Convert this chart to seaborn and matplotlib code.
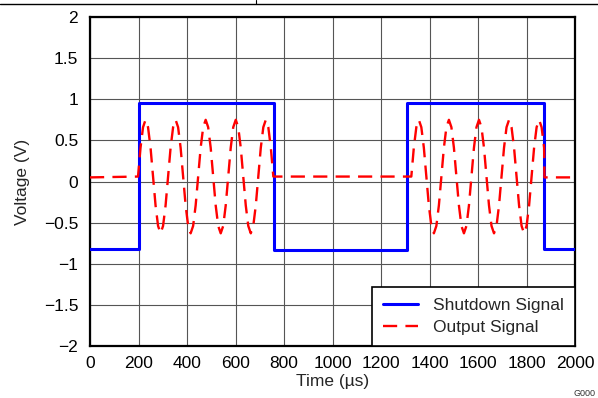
import numpy as np
import pandas as pd
import matplotlib
matplotlib.use("Agg")
import matplotlib.pyplot as plt
from matplotlib.lines import Line2D
import seaborn as sns

# ---------------- data ----------------
shutdown_t = [0, 202, 202, 759, 759, 1307, 1307, 1872, 1872, 2000]
shutdown_v = [-0.82, -0.82, 0.96, 0.96, -0.83, -0.83, 0.96, 0.96, -0.82, -0.82]

burst1_t = [198.0, 208.3, 218.7, 229.0, 239.3, 249.7, 260.0, 270.3, 280.7, 291.0, 301.3, 311.7,
            322.0, 332.3, 342.7, 353.0, 363.3, 373.7, 384.0, 394.3, 404.7, 415.0, 425.3, 435.7,
            446.0, 456.3, 466.7, 477.0, 487.3, 497.7, 508.0, 518.3, 528.7, 539.0, 549.3, 559.7,
            570.0, 580.3, 590.7, 601.0, 611.3, 621.7, 632.0, 642.3, 652.7, 663.0, 673.3, 683.7,
            694.0, 704.3, 714.7, 725.0, 735.3, 745.7, 756.0]
burst1_v = [0.06, 0.41, 0.66, 0.75, 0.66, 0.41, 0.06, -0.29, -0.54, -0.63, -0.54, -0.29,
            0.06, 0.41, 0.66, 0.75, 0.66, 0.41, 0.06, -0.29, -0.54, -0.63, -0.54, -0.29,
            0.06, 0.41, 0.66, 0.75, 0.66, 0.41, 0.06, -0.29, -0.54, -0.63, -0.54, -0.29,
            0.06, 0.41, 0.66, 0.75, 0.66, 0.41, 0.06, -0.29, -0.54, -0.63, -0.54, -0.29,
            0.06, 0.41, 0.66, 0.75, 0.66, 0.41, 0.06]

burst2_t = [1325.0, 1335.3, 1345.7, 1356.0, 1366.3, 1376.7, 1387.0, 1397.3, 1407.7, 1418.0, 1428.3, 1438.7,
            1449.0, 1459.3, 1469.7, 1480.0, 1490.3, 1500.7, 1511.0, 1521.3, 1531.7, 1542.0, 1552.3, 1562.7,
            1573.0, 1583.3, 1593.7, 1604.0, 1614.3, 1624.7, 1635.0, 1645.3, 1655.7, 1666.0, 1676.3, 1686.7,
            1697.0, 1707.3, 1717.7, 1728.0, 1738.3, 1748.7, 1759.0, 1769.3, 1779.7, 1790.0, 1800.3, 1810.7,
            1821.0, 1831.3, 1841.7, 1852.0, 1862.3, 1872.7]
burst2_v = [0.06, 0.41, 0.66, 0.75, 0.66, 0.41, 0.06, -0.29, -0.54, -0.63, -0.54, -0.29,
            0.06, 0.41, 0.66, 0.75, 0.66, 0.41, 0.06, -0.29, -0.54, -0.63, -0.54, -0.29,
            0.06, 0.41, 0.66, 0.75, 0.66, 0.41, 0.06, -0.29, -0.54, -0.63, -0.54, -0.29,
            0.06, 0.41, 0.66, 0.75, 0.66, 0.41, 0.06, -0.29, -0.54, -0.63, -0.54, -0.29,
            0.06, 0.41, 0.66, 0.75, 0.66, 0.41]

output_t = [0] + burst1_t + burst2_t + [1874, 2000]
output_v = [0.05] + burst1_v + burst2_v + [0.05, 0.05]

x_ticks = [0, 200, 400, 600, 800, 1000, 1200, 1400, 1600, 1800, 2000]
y_ticks = [-2, -1.5, -1, -0.5, 0, 0.5, 1, 1.5, 2]
y_tick_labels = ["\u22122", "\u22121.5", "\u22121", "\u22120.5", "0", "0.5", "1", "1.5", "2"]

# ---------------- plot ----------------
sns.set_style("white")
plt.rcParams["font.family"] = ["Liberation Sans", "DejaVu Sans"]
FS = 12.5

fig = plt.figure(figsize=(5.98, 3.98), dpi=100)
ax = fig.add_axes([90 / 598, 1 - 346 / 398, 485 / 598, 329 / 398])

df_s = pd.DataFrame({"t": shutdown_t, "v": shutdown_v})
df_o = pd.DataFrame({"t": output_t, "v": output_v})

sns.lineplot(data=df_s, x="t", y="v", ax=ax, color="#0000ff", lw=2.2,
             sort=False, estimator=None, label="Shutdown Signal", zorder=3)
sns.lineplot(data=df_o, x="t", y="v", ax=ax, color="#ff0000", lw=1.7,
             sort=False, estimator=None, label="Output Signal", zorder=4,
             dashes=False)
ax.lines[-1].set_dashes((6, 3.5))

ax.set_xlim(0, 2000)
ax.set_ylim(-2, 2)
ax.set_xticks(x_ticks)
ax.set_yticks(y_ticks)
ax.set_yticklabels(y_tick_labels)
ax.tick_params(axis="both", length=0, labelsize=FS, colors="black")
ax.tick_params(axis="y", pad=8.5)
ax.tick_params(axis="x", pad=7.5)
ax.grid(True, color="#555555", lw=0.8)
ax.set_axisbelow(True)
for s in ax.spines.values():
    s.set_visible(True)
    s.set_color("black")
    s.set_linewidth(1.6)

ax.set_xlabel("Time (\u00b5s)", fontsize=FS, labelpad=2)
ax.set_ylabel("Voltage (V)", fontsize=FS, labelpad=10)

leg = ax.legend(loc="lower right", borderaxespad=0, fontsize=FS,
                frameon=True, fancybox=False, handlelength=2.0,
                handletextpad=0.85, borderpad=0.65, labelspacing=0.38)
leg.get_frame().set_edgecolor("black")
leg.get_frame().set_linewidth(1.2)
leg.get_frame().set_alpha(1)
leg.legend_handles[1].set_dashes((6, 3.5))
leg.legend_handles[1].set_linewidth(1.7)

# top rule and small tick
fig.add_artist(Line2D([0, 1], [1 - 4 / 398, 1 - 4 / 398], color="black", lw=1.0,
                      transform=fig.transFigure))
fig.add_artist(Line2D([255.5 / 598, 255.5 / 598], [1 - 4 / 398, 1.0], color="black",
                      lw=0.8, transform=fig.transFigure))
fig.text(573 / 598, 1 - 393 / 398, "G000", fontsize=6.5, color="#333333",
         ha="left", va="center")

fig.savefig("out.png", dpi=100)
